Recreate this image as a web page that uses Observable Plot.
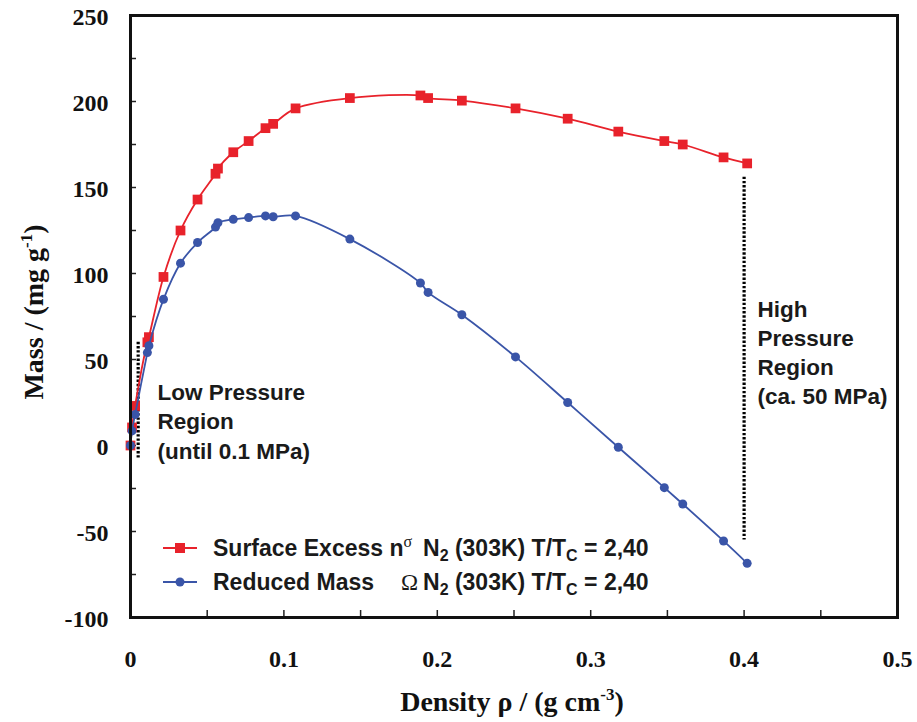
<!DOCTYPE html>
<html><head><meta charset="utf-8">
<script src="https://cdn.jsdelivr.net/npm/d3@7"></script>
<script src="https://cdn.jsdelivr.net/npm/@observablehq/plot@0.6"></script>
<style>
body{margin:0;background:#fff}
#chart{position:relative;width:917px;height:722px}
</style>
</head><body><div id="chart"></div>
<script>
// Density rho (g cm^-3) shared by both series
const density = [0, 0.001, 0.003, 0.011, 0.012, 0.0215, 0.0326, 0.0437, 0.0554, 0.057, 0.067, 0.077, 0.088, 0.093, 0.1076, 0.143, 0.189, 0.194, 0.216, 0.251, 0.285, 0.318, 0.348, 0.360, 0.3866, 0.402];
// Surface excess n^sigma (mg g^-1)
const surfaceExcess = [0, 10.5, 23, 60, 63, 98, 125, 143, 158, 161, 170.5, 177, 184.5, 187, 196, 202, 203.5, 202, 200.5, 196, 190, 182.5, 177, 175, 167.5, 164];
// Reduced mass Omega (mg g^-1)
const reducedMass = [0, 8.5, 18, 54, 58, 85, 106, 118, 127, 129.5, 131.5, 132.5, 133.5, 133, 133.5, 120, 94.5, 89, 76, 51.5, 25, -1, -24.5, -34, -55.5, -68.5];

const xTicks = [0, 0.1, 0.2, 0.3, 0.4, 0.5];
const xTickMarks = [0.05, 0.1, 0.15, 0.2, 0.25, 0.3, 0.35, 0.4, 0.45];
const yTicks = [-100, -50, 0, 50, 100, 150, 200, 250];
const yTickMarks = [-75, -50, -25, 0, 25, 50, 75, 100, 125, 150, 175, 200, 225];

// Pressure region boundaries (dotted lines)
const regionX = [0.005, 0.4];
const regionTop = [60, 156];
const regionBottom = [-8, -55];
// Annotations
const noteText = ["Low Pressure\nRegion\n(until 0.1 MPa)", "High\nPressure\nRegion\n(ca. 50 MPa)"];
const noteX = [0.0176, 0.4087];
const noteY = [38.5, 87];

const RED = "#e8222b";
const BLUE = "#3a55a8";
const SANS = "'Liberation Sans', Arial, sans-serif";
const SERIF = "'Liberation Serif', 'Times New Roman', serif";

const rows = density.map((d, i) => ({density: d, excess: surfaceExcess[i], reduced: reducedMass[i]}));
const regions = regionX.map((x, i) => ({x, y1: regionTop[i], y2: regionBottom[i]}));
const notes = noteText.map((t, i) => ({t, x: noteX[i], y: noteY[i]}));

const plot = Plot.plot({
  width: 917, height: 722,
  marginLeft: 130, marginRight: 20, marginTop: 15, marginBottom: 105,
  x: {domain: [0, 0.5]},
  y: {domain: [-100, 250]},
  style: {background: "#fff", color: "#111"},
  marks: [
    Plot.axisX(xTicks, {tickSize: 0, tickPadding: 32, label: null, tickFormat: d => String(d),
      fontSize: 24, fontWeight: "bold", fontFamily: SERIF, fill: "#111"}),
    Plot.axisY(yTicks, {tickSize: 0, tickPadding: 22, label: null, tickFormat: d => String(d), dy: 2,
      fontSize: 24, fontWeight: "bold", fontFamily: SERIF, fill: "#111"}),
    Plot.tickX(xTickMarks, {x: d => d, insetTop: 595, stroke: "#222", strokeWidth: 1.5}),
    Plot.tickY(yTickMarks, {y: d => d, insetRight: 761, stroke: "#222", strokeWidth: 1.5}),
    Plot.ruleX(regions, {x: "x", y1: "y1", y2: "y2", stroke: "#000", strokeWidth: 3.2, strokeDasharray: "2.4 1.8"}),
    Plot.text(notes, {x: "x", y: "y", text: "t", textAnchor: "start", lineAnchor: "top", lineHeight: 1.3,
      fontSize: 22.5, fontWeight: "bold", fontFamily: SANS, fill: "#1a1a1a"}),
    Plot.line(rows, {x: "density", y: "excess", stroke: RED, strokeWidth: 1.8, curve: "catmull-rom"}),
    Plot.dot(rows, {x: "density", y: "excess", symbol: "square", fill: RED, r: 5.5}),
    Plot.line(rows, {x: "density", y: "reduced", stroke: BLUE, strokeWidth: 1.8, curve: "catmull-rom"}),
    Plot.dot(rows, {x: "density", y: "reduced", fill: BLUE, r: 4.5}),
    Plot.frame({stroke: "#111", strokeWidth: 3})
  ]
});
document.getElementById("chart").appendChild(plot);

const svg = d3.select(plot);

function richText(g, segs, attrs) {
  const t = g.append("text").attr("xml:space", "preserve").style("white-space", "pre");
  for (const [k, v] of Object.entries(attrs)) t.attr(k, v);
  for (const s of segs) {
    const sp = t.append("tspan").text(s.t);
    if (s.x != null) sp.attr("x", s.x);
    if (s.sup) sp.attr("dy", s.sup).attr("font-size", s.size || 15);
    if (s.sub) sp.attr("dy", s.sub).attr("font-size", s.size || 15);
    if (s.back) sp.attr("dy", s.back);
    if (s.font) sp.attr("font-family", s.font).attr("font-weight", s.fw || "bold");
  }
  return t;
}

// axis titles
richText(svg, [{t: "Density ρ / (g cm"}, {t: "-3", sup: -11, size: 17}, {t: ")", back: 11}],
  {x: 512, y: 711, "text-anchor": "middle", "font-family": SERIF, "font-weight": "bold", "font-size": 28, fill: "#111"});
const yl = svg.append("g").attr("transform", "translate(43,312) rotate(-90)");
richText(yl, [{t: "Mass / (mg g"}, {t: "-1", sup: -11, size: 17}, {t: ")", back: 11}],
  {x: 0, y: 0, "text-anchor": "middle", "font-family": SERIF, "font-weight": "bold", "font-size": 28, fill: "#111"});

// legend
const lg = svg.append("g").attr("text-anchor", "start");
const legendRows = [
  {y: 548, color: RED, sym: "square", segs: [
    {t: "Surface Excess n"}, {t: "σ", sup: -9, size: 16, font: SERIF, fw: "normal"}, {t: "N", back: 9, x: 423},
    {t: "2", sub: 5, size: 16}, {t: " (303K) T/T", back: -5}, {t: "C", sub: 5, size: 16}, {t: " = 2,40", back: -5}]},
  {y: 582, color: BLUE, sym: "circle", segs: [
    {t: "Reduced Mass"}, {t: "Ω", font: SERIF, fw: "normal", x: 401}, {t: "N", x: 423},
    {t: "2", sub: 5, size: 16}, {t: " (303K) T/T", back: -5}, {t: "C", sub: 5, size: 16}, {t: " = 2,40", back: -5}]}
];
for (const r of legendRows) {
  lg.append("line").attr("x1", 163).attr("x2", 197).attr("y1", r.y).attr("y2", r.y)
    .attr("stroke", r.color).attr("stroke-width", 2);
  if (r.sym === "square") lg.append("rect").attr("x", 175).attr("y", r.y - 5).attr("width", 10).attr("height", 10).attr("fill", r.color);
  else lg.append("circle").attr("cx", 180).attr("cy", r.y).attr("r", 4.5).attr("fill", r.color);
  richText(lg, r.segs, {x: 213, y: r.y + 8, "text-anchor": "start", "font-family": SANS, "font-weight": "bold", "font-size": 23, fill: "#1a1a1a"});
}
</script>
</body></html>
